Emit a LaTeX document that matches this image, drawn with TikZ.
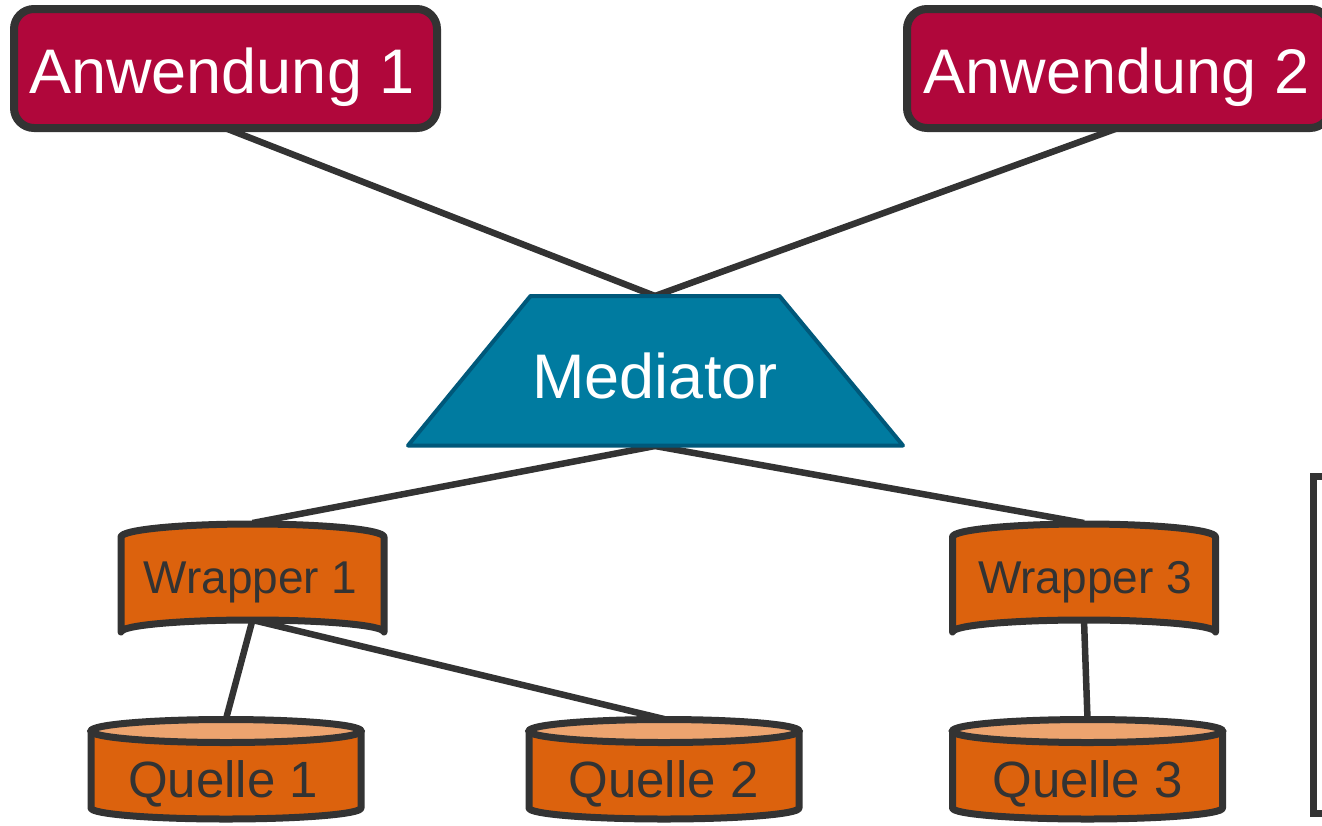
\documentclass[tikz,border=0pt]{standalone}
\usepackage{fontspec}
\setmainfont{Liberation Sans}
\definecolor{edge}{HTML}{333333}
\definecolor{appred}{HTML}{B0073B}
\definecolor{medblue}{HTML}{007BA0}
\definecolor{medrim}{HTML}{00587A}
\definecolor{srcorange}{HTML}{DC620D}
\definecolor{srctop}{HTML}{EDA46F}
\begin{document}
\begin{tikzpicture}[x=1pt,y=-1pt,
  link/.style={draw=edge, line width=6.5pt},
  appbox/.style={fill=appred, draw=edge, line width=8pt, rounded corners=20pt},
  medshape/.style={fill=medblue, draw=medrim, line width=4pt, line join=round},
  orangebody/.style={fill=srcorange, draw=edge, line width=7pt, line join=round},
  lidstyle/.style={fill=srctop, draw=edge, line width=7pt},
  bigwhite/.style={anchor=base, text=white, inner sep=0pt, font=\fontsize{63}{70}\selectfont},
  wraptext/.style={anchor=base, text=edge, inner sep=0pt, font=\fontsize{46}{52}\selectfont},
  srctext/.style={anchor=base, text=edge, inner sep=0pt, font=\fontsize{51}{58}\selectfont},
  framestyle/.style={draw=edge, line width=7pt, line join=miter}]
\useasboundingbox (0,0) rectangle (1322,825);

% attachment points
\coordinate (a1b) at (225,128);
\coordinate (a2b) at (1118,128);
\coordinate (medtop) at (655,296);
\coordinate (medbot) at (655,446);
\coordinate (w1t) at (252.5,523);
\coordinate (w1b) at (252.5,620);
\coordinate (w3t) at (1084,523);
\coordinate (w3b) at (1084,620);
\coordinate (q1t) at (226,719);
\coordinate (q2t) at (664,719);
\coordinate (q3t) at (1087.5,719);

% connectors
\draw[link] (a1b) -- (medtop);
\draw[link] (a2b) -- (medtop);
\draw[link] (medbot) -- (w1t);
\draw[link] (medbot) -- (w3t);
\draw[link] (w1b) -- (q1t);
\draw[link] (w1b) -- (q2t);
\draw[link] (w3b) -- (q3t);

% applications
\draw[appbox] (14,9) rectangle (437,128);
\draw[appbox] (907,9) rectangle (1330,128);
\node[bigwhite] (app1) at (222,93) {Anwendung 1};
\node[bigwhite] (app2) at (1116.5,93) {Anwendung 2};

% mediator
\draw[medshape] (530.5,296) -- (779.5,296) -- (903,445.5) -- (408,445.5) -- cycle;
\node[bigwhite] (med) at (655,398) {Mediator};

% wrappers
\foreach \c in {252.5,1084} {
  \draw[orangebody]
    ({\c-131.5},537) .. controls ({\c-131.5},529.8) and ({\c-72.6},524) .. (\c,524)
    .. controls ({\c+72.6},524) and ({\c+131.5},529.8) .. ({\c+131.5},537)
    -- ({\c+131.5},632)
    .. controls ({\c+131.5},625.4) and ({\c+72.6},620) .. (\c,620)
    .. controls ({\c-72.6},620) and ({\c-131.5},625.4) .. ({\c-131.5},632)
    -- cycle;
}
\node[wraptext] (wrap1) at (250.5,593) {Wrapper 1};
\node[wraptext] (wrap3) at (1085,593) {Wrapper 3};

% sources
\foreach \c in {226,664,1087.5} {
  \draw[orangebody]
    ({\c-135},731) -- ({\c-135},808)
    .. controls ({\c-135},814.1) and ({\c-74.6},819) .. (\c,819)
    .. controls ({\c+74.6},819) and ({\c+135},814.1) .. ({\c+135},808)
    -- ({\c+135},731) -- cycle;
  \draw[lidstyle] (\c,731) ellipse [x radius=135, y radius=11.5];
}
\node[srctext] (src1) at (223,797) {Quelle 1};
\node[srctext] (src2) at (663.5,797) {Quelle 2};
\node[srctext] (src3) at (1087.5,797) {Quelle 3};

% frame at the right border
\draw[framestyle] (1340,476) -- (1313,476) -- (1313,813) -- (1340,813);
\end{tikzpicture}
\end{document}
